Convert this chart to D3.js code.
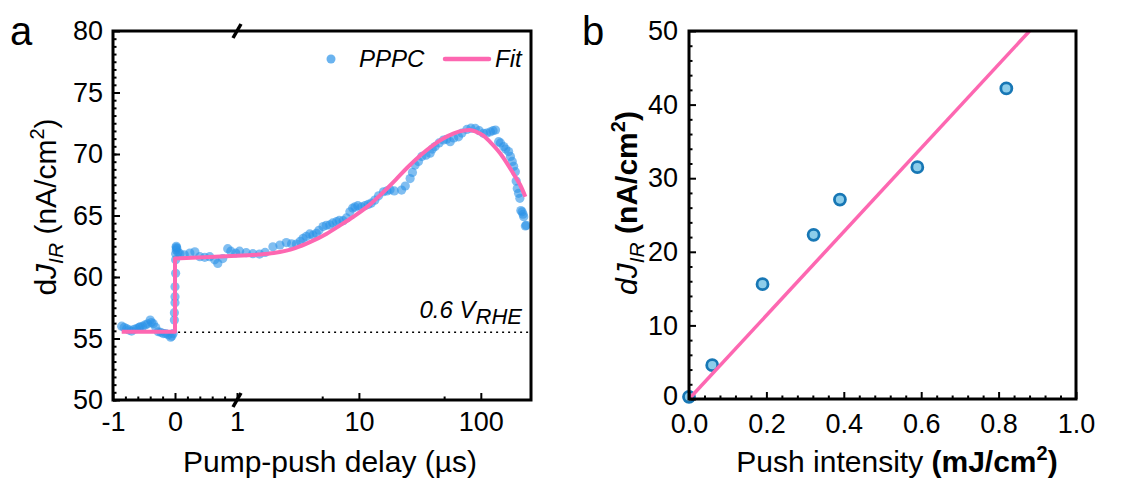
<!DOCTYPE html>
<html>
<head>
<meta charset="utf-8">
<script src="https://cdn.jsdelivr.net/npm/d3@7"></script>
<style>
  body { margin: 0; background: #fff; }
  text { font-family: "Liberation Sans", Arial, sans-serif; }
</style>
</head>
<body>
<svg id="chart" width="1124" height="478"></svg>
<script>
// panel a : PPPC transient (delay in us, dJ in nA/cm2)
const delay = [
  -0.86, -0.82, -0.78, -0.74, -0.70, -0.66, -0.62, -0.58, -0.56, -0.52, -0.48, -0.44, -0.40, -0.38, -0.35, -0.31,
  -0.27, -0.23, -0.19, -0.15, -0.11, -0.07, -0.05, -0.03,
  -0.01, -0.01, 0.0, 0.0, 0.0, 0.01, 0.01, 0.01, 0.02, 0.02, 0.02,
  0.03, 0.05, 0.08, 0.15, 0.24, 0.32, 0.40, 0.48, 0.56, 0.64, 0.69, 0.77, 0.85, 0.90, 0.98,
  1.05, 1.19, 1.35, 1.53, 1.7, 1.97, 2.25, 2.54, 2.8, 3.07, 3.3, 3.48, 3.7, 3.95, 4.2, 4.48, 4.7,
  5.08, 5.4, 5.77, 6.1, 6.55, 6.9, 7.43, 7.9, 8.43, 8.9, 9.27, 9.8, 10.5, 11.2, 11.9, 12.6, 13.5,
  14.5, 15.9, 17, 18, 19.5, 22.4, 24, 26.3, 27.5, 28.9, 30.8, 32.8, 35.5, 38.4, 40, 42.2, 45.5,
  49.4, 52.5, 56.1, 60, 65.6, 70, 76.9, 83, 90.1, 97, 105, 112, 120, 126, 132, 140, 145, 154,
  160, 169, 175, 181, 186, 192, 195, 199, 204, 209, 213, 218, 222, 225, 232, 236
]
const dJ = [
  56.0, 55.9, 55.8, 55.7, 55.6, 55.75, 55.8, 55.9, 55.95, 56.0, 56.1, 56.2, 56.5, 56.3, 56.2, 55.9,
  55.55, 55.5, 55.4, 55.4, 55.3, 55.1, 55.2, 55.4,
  56.5, 57.1, 57.9, 58.4, 59.2, 60.3, 61.4, 61.9, 62.5, 62.2, 62.4,
  62.33, 62.0, 61.9, 61.8, 61.95, 62.05, 61.65, 61.6, 61.65, 61.4, 61.1, 61.5, 62.3, 62.1, 61.95,
  62.1, 61.98, 61.9, 61.86, 62.0, 62.46, 62.6, 62.8, 62.7, 62.68, 62.9, 63.14, 63.3, 63.5, 63.4, 63.55, 63.8,
  64.1, 64.2, 64.23, 64.4, 64.5, 64.6, 64.58, 64.8, 65.3, 65.6, 65.7, 65.8, 65.7, 65.8, 65.9, 66.0, 66.25,
  66.6, 66.93, 67.0, 67.1, 67.0, 67.07, 67.4, 68.0, 68.5, 69.1, 69.4, 69.8, 69.9, 70.06, 70.4, 70.6, 70.9,
  71.14, 71.2, 71.0, 71.3, 71.4, 71.7, 72.0, 72.1, 72.08, 71.9, 71.68, 71.7, 71.8, 71.9, 71.95, 71.0, 70.9, 70.6,
  70.4, 70.2, 69.8, 69.4, 69.0, 68.56, 67.8, 67.2, 66.8, 66.4, 65.4, 65.3, 65.1, 64.9, 64.15, 64.2
]
const fitPre = [-0.86, 0, 0, 1]
const fitPreJ = [55.55, 55.55, 61.5, 61.72]
const fitDelay = [1, 1.5, 2, 3, 4, 5.4, 7, 9, 12, 15, 20, 25, 32, 41, 50, 60, 72, 81, 92, 105, 120, 144, 165, 185, 210, 232]
const fitJ = [61.72, 61.82, 61.95, 62.35, 62.85, 63.5, 64.2, 64.9, 65.8, 66.67, 67.9, 68.9, 69.9, 70.75, 71.3, 71.68, 71.9, 71.95, 71.8, 71.5, 70.95, 70.06, 69.2, 68.4, 67.5, 66.53]
const baseline = 55.5

// panel b : intensity dependence
const intensity = [0, 0.06, 0.19, 0.322, 0.39, 0.59, 0.82]
const dJpush = [0.3, 4.6, 15.6, 22.3, 27.1, 31.5, 42.2]
const lineX = [0, 0.88]
const lineY = [0, 50]

const yTicksA = [50, 55, 60, 65, 70, 75, 80]
const xTicksLin = [-1, 0, 1]
const xTicksLog = [10, 100]
const yTicksB = [0, 10, 20, 30, 40, 50]
const xTicksB = [0, 0.2, 0.4, 0.6, 0.8, 1.0]

const PINK = "#fd67b1"
const BLUE = "#2b93e8"
const TICK_FS = 27

const svg = d3.select("#chart")

function styleAxis(g) {
  g.select(".domain").remove()
  g.selectAll(".tick line").attr("stroke", "#000").attr("stroke-width", 2)
  g.selectAll(".tick text").attr("font-size", TICK_FS).attr("fill", "#000")
    .attr("font-family", '"Liberation Sans", Arial, sans-serif')
}

// ---------- panel a ----------
const A = {l: 113, r: 531, t: 31, b: 400}
const xBreak = 237
const xLin = d3.scaleLinear().domain([-1, 1]).range([A.l, xBreak])
const xLog = d3.scaleLog().domain([1, 258]).range([xBreak, A.r])
const xa = t => t <= 1 ? xLin(t) : xLog(t)
const ya = d3.scaleLinear().domain([50, 80]).range([A.b, A.t])

const ga = svg.append("g")

ga.append("line")
  .attr("x1", xa(0.05)).attr("x2", A.r)
  .attr("y1", ya(baseline)).attr("y2", ya(baseline))
  .attr("stroke", "#000").attr("stroke-width", 1.5).attr("stroke-dasharray", "2,4")

ga.selectAll("circle.pt")
  .data(delay.map((d, i) => [d, dJ[i]]))
  .enter().append("circle")
  .attr("class", "pt")
  .attr("cx", d => xa(d[0])).attr("cy", d => ya(d[1]))
  .attr("r", 4.6)
  .attr("fill", BLUE).attr("fill-opacity", 0.6)

ga.append("path")
  .datum(fitPre.map((d, i) => [d, fitPreJ[i]]))
  .attr("d", d3.line().x(d => xa(d[0])).y(d => ya(d[1])))
  .attr("fill", "none").attr("stroke", PINK).attr("stroke-width", 4)
  .attr("stroke-linejoin", "round")

ga.append("path")
  .datum(fitDelay.map((d, i) => [d, fitJ[i]]))
  .attr("d", d3.line().x(d => xa(d[0])).y(d => ya(d[1])).curve(d3.curveMonotoneX))
  .attr("fill", "none").attr("stroke", PINK).attr("stroke-width", 4)

// axes a
ga.append("g").attr("transform", `translate(${A.l},0)`)
  .call(d3.axisLeft(ya).tickValues(d3.range(50, 80, 0.625)).tickFormat("").tickSizeInner(-3.5).tickSizeOuter(0))
  .call(styleAxis)
ga.append("g").attr("transform", `translate(${A.l},0)`)
  .call(d3.axisLeft(ya).tickValues(yTicksA).tickSizeInner(-7).tickSizeOuter(0).tickPadding(10))
  .call(styleAxis)

ga.append("g").attr("transform", `translate(0,${A.b})`)
  .call(d3.axisBottom(xLin).tickValues([-0.8, -0.6, -0.4, -0.2, 0.2, 0.4, 0.6, 0.8]).tickFormat("").tickSizeInner(-3.5).tickSizeOuter(0))
  .call(styleAxis)
ga.append("g").attr("transform", `translate(0,${A.b})`)
  .call(d3.axisBottom(xLin).tickValues(xTicksLin).tickFormat(d => String(d)).tickSizeInner(-7).tickSizeOuter(0).tickPadding(12))
  .call(styleAxis)
ga.append("g").attr("transform", `translate(0,${A.b})`)
  .call(d3.axisBottom(xLog).tickValues([5, 50]).tickFormat("").tickSizeInner(-3.5).tickSizeOuter(0))
  .call(styleAxis)
ga.append("g").attr("transform", `translate(0,${A.b})`)
  .call(d3.axisBottom(xLog).tickValues(xTicksLog).tickFormat(d => String(d)).tickSizeInner(-7).tickSizeOuter(0).tickPadding(12))
  .call(styleAxis)

ga.append("rect")
  .attr("x", A.l).attr("y", A.t).attr("width", A.r - A.l).attr("height", A.b - A.t)
  .attr("fill", "none").attr("stroke", "#000").attr("stroke-width", 3)

// axis break marks
;[A.t, A.b].forEach(y => {
  ga.append("line")
    .attr("x1", xBreak - 4).attr("y1", y + 7).attr("x2", xBreak + 4).attr("y2", y - 7)
    .attr("stroke", "#000").attr("stroke-width", 3.5)
})

// legend a
ga.append("circle").attr("cx", 331).attr("cy", 59).attr("r", 4.5).attr("fill", BLUE).attr("fill-opacity", 0.7)
ga.append("text").attr("x", 359).attr("y", 67).attr("font-size", 24).attr("font-style", "italic").text("PPPC")
ga.append("line").attr("x1", 445).attr("x2", 489).attr("y1", 59).attr("y2", 59)
  .attr("stroke", PINK).attr("stroke-width", 4.5).attr("stroke-linecap", "round")
ga.append("text").attr("x", 495).attr("y", 67).attr("font-size", 24).attr("font-style", "italic").text("Fit")

// potential label
const vt = ga.append("text").attr("x", 522).attr("y", 318).attr("text-anchor", "end")
  .attr("font-size", 24).attr("font-style", "italic")
vt.append("tspan").text("0.6 V")
vt.append("tspan").attr("font-size", 22).attr("dy", 6).text("RHE")

// titles a
ga.append("text").attr("x", 330).attr("y", 472).attr("text-anchor", "middle").attr("font-size", 30)
  .text("Pump-push delay (\u00b5s)")

const yta = ga.append("text").attr("transform", "translate(56,207) rotate(-90)")
  .attr("text-anchor", "middle").attr("font-size", 30)
yta.append("tspan").text("d")
yta.append("tspan").attr("font-style", "italic").text("J")
yta.append("tspan").attr("font-style", "italic").attr("font-size", 21).attr("dy", 7).text("IR")
yta.append("tspan").attr("dy", -7).text(" (nA/cm")
yta.append("tspan").attr("font-size", 20).attr("dy", -12).text("2")
yta.append("tspan").attr("dy", 12).text(")")

ga.append("text").attr("x", 10).attr("y", 45).attr("font-size", 40).text("a")

// ---------- panel b ----------
const B = {l: 689, r: 1076, t: 31, b: 399}
const xb = d3.scaleLinear().domain([0, 1]).range([B.l, B.r])
const yb = d3.scaleLinear().domain([0, 50]).range([B.b, B.t])

const gb = svg.append("g")

gb.selectAll("circle.pb")
  .data(intensity.map((d, i) => [d, dJpush[i]]))
  .enter().append("circle")
  .attr("class", "pb")
  .attr("cx", d => xb(d[0])).attr("cy", d => yb(d[1]))
  .attr("r", 5.5)
  .attr("fill", "#8dcdea").attr("stroke", "#1777b5").attr("stroke-width", 2.8)

gb.append("path")
  .datum(lineX.map((d, i) => [d, lineY[i]]))
  .attr("d", d3.line().x(d => xb(d[0])).y(d => yb(d[1])))
  .attr("fill", "none").attr("stroke", PINK).attr("stroke-width", 3.5)

gb.append("g").attr("transform", `translate(${B.l},0)`)
  .call(d3.axisLeft(yb).tickValues(d3.range(2, 50, 2).filter(v => v % 10 !== 0)).tickFormat("").tickSizeInner(-3.5).tickSizeOuter(0))
  .call(styleAxis)
gb.append("g").attr("transform", `translate(${B.l},0)`)
  .call(d3.axisLeft(yb).tickValues(yTicksB).tickSizeInner(-7).tickSizeOuter(0).tickPadding(11))
  .call(styleAxis)
  .call(g => g.selectAll(".tick text").filter(d => d === 0).attr("dy", "0.2em"))
gb.append("g").attr("transform", `translate(0,${B.b})`)
  .call(d3.axisBottom(xb).tickValues(d3.range(0.04, 1, 0.04).filter(v => Math.abs(v * 5 - Math.round(v * 5)) > 0.01)).tickFormat("").tickSizeInner(-3.5).tickSizeOuter(0))
  .call(styleAxis)
gb.append("g").attr("transform", `translate(0,${B.b})`)
  .call(d3.axisBottom(xb).tickValues(xTicksB).tickFormat(d3.format(".1f")).tickSizeInner(-7).tickSizeOuter(0).tickPadding(15))
  .call(styleAxis)

gb.append("rect")
  .attr("x", B.l).attr("y", B.t).attr("width", B.r - B.l).attr("height", B.b - B.t)
  .attr("fill", "none").attr("stroke", "#000").attr("stroke-width", 3)

const xtb = gb.append("text").attr("x", 897).attr("y", 472).attr("text-anchor", "middle").attr("font-size", 30)
xtb.append("tspan").text("Push intensity ")
xtb.append("tspan").attr("font-weight", "bold").text("(mJ/cm")
xtb.append("tspan").attr("font-weight", "bold").attr("font-size", 20).attr("dy", -12).text("2")
xtb.append("tspan").attr("font-weight", "bold").attr("dy", 12).text(")")

const ytb = gb.append("text").attr("transform", "translate(637,203) rotate(-90)")
  .attr("text-anchor", "middle").attr("font-size", 30)
ytb.append("tspan").attr("font-style", "italic").text("dJ")
ytb.append("tspan").attr("font-style", "italic").attr("font-size", 21).attr("dy", 7).text("IR")
ytb.append("tspan").attr("font-weight", "bold").attr("dy", -7).text(" (nA/cm")
ytb.append("tspan").attr("font-weight", "bold").attr("font-size", 20).attr("dy", -12).text("2")
ytb.append("tspan").attr("font-weight", "bold").attr("dy", 12).text(")")

gb.append("text").attr("x", 582).attr("y", 45).attr("font-size", 40).text("b")
</script>
</body>
</html>
